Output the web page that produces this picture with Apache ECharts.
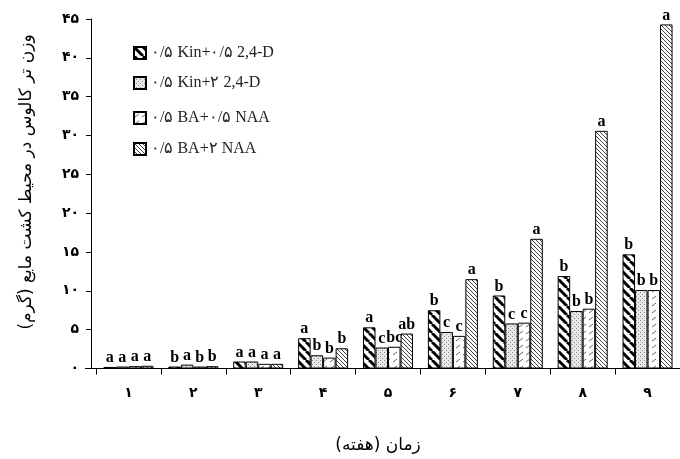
<!DOCTYPE html>
<html>
<head>
<meta charset="utf-8">
<script src="https://cdn.jsdelivr.net/npm/echarts@6/dist/echarts.min.js"></script>
<style>html,body{margin:0;padding:0;background:#fff}#c{width:680px;height:459px}</style>
</head>
<body>
<div id="c"></div>
<script>
// ---- data ----
const categories = ['۱','۲','۳','۴','۵','۶','۷','۸','۹'];
const seriesNames = ['۰/۵ Kin+۰/۵ 2,4-D', '۰/۵ Kin+۲ 2,4-D', '۰/۵ BA+۰/۵ NAA', '۰/۵ BA+۲ NAA'];
const kinLowD = [0.2, 0.25, 0.9, 3.9, 5.3, 7.5, 9.4, 11.9, 14.7];
const kinHighD = [0.25, 0.5, 0.9, 1.7, 2.7, 4.7, 5.8, 7.4, 10.1];
const baLowN = [0.3, 0.25, 0.6, 1.4, 2.8, 4.2, 5.9, 7.7, 10.1];
const baHighN = [0.35, 0.3, 0.6, 2.6, 4.5, 11.5, 16.7, 30.6, 44.3];
const lettersKinLowD = ['a','b','a','a','a','b','b','b','b'];
const lettersKinHighD = ['a','a','a','b','c','c','c','b','b'];
const lettersBaLowN = ['a','b','a','b','bc','c','c','b','b'];
const lettersBaHighN = ['a','b','a','b','ab','a','a','a','a'];
const yTickLabels = ['۰','۵','۱۰','۱۵','۲۰','۲۵','۳۰','۳۵','۴۰','۴۵'];
const yTitle = 'وزن تر کالوس در محیط کشت مایع (گرم)';
const xTitle = 'زمان (هفته)';

// ---- patterns ----
function makePattern(kind) {
  const c = document.createElement('canvas');
  let s;
  if (kind === 0) {
    s = 9; c.width = s; c.height = s;
    const g = c.getContext('2d');
    g.fillStyle = '#fff'; g.fillRect(0, 0, s, s);
    g.strokeStyle = '#000'; g.lineWidth = 3;
    for (const o of [-s, 0, s]) { g.beginPath(); g.moveTo(o, 0); g.lineTo(o + s, s); g.stroke(); }
  } else if (kind === 1) {
    s = 4; c.width = s; c.height = s;
    const g = c.getContext('2d');
    g.fillStyle = '#e8e8e8'; g.fillRect(0, 0, s, s);
    g.fillStyle = '#8a8a8a'; g.fillRect(0, 0, 1, 1); g.fillRect(2, 2, 1, 1);
  } else if (kind === 2) {
    s = 7; c.width = s; c.height = s;
    const g = c.getContext('2d');
    g.fillStyle = '#fff'; g.fillRect(0, 0, s, s);
    g.strokeStyle = '#666'; g.lineWidth = 1;
    g.beginPath(); g.moveTo(1, 5); g.lineTo(5, 2); g.stroke();
  } else {
    s = 4; c.width = s; c.height = s;
    const g = c.getContext('2d');
    g.fillStyle = '#fff'; g.fillRect(0, 0, s, s);
    g.strokeStyle = '#444'; g.lineWidth = 1;
    for (const o of [-s, 0, s]) { g.beginPath(); g.moveTo(o, 0); g.lineTo(o + s, s); g.stroke(); }
  }
  return { image: c, repeat: 'repeat' };
}

const values = [kinLowD, kinHighD, baLowN, baHighN];
const letters = [lettersKinLowD, lettersKinHighD, lettersBaLowN, lettersBaHighN];
const legendTops = [40, 70, 105, 136];

const series = values.map((v, i) => ({
  name: seriesNames[i],
  type: 'bar',
  data: v,
  barWidth: 12.5,
  barGap: '0%',
  itemStyle: { color: makePattern(i), borderColor: '#000', borderWidth: 1 },
  label: {
    show: true, position: 'top', distance: 1,
    formatter: p => letters[i][p.dataIndex],
    fontFamily: 'Liberation Serif', fontWeight: 'bold', fontSize: 16, color: '#000'
  },
  emphasis: { disabled: true },
  animation: false
}));

const legends = seriesNames.map((n, i) => ({
  data: [n], left: 128, top: legendTops[i], orient: 'vertical',
  itemWidth: 12, itemHeight: 12, itemGap: 8,
  icon: 'rect',
  textStyle: { fontFamily: 'Liberation Serif', fontSize: 16, color: '#222' },
  selectedMode: false
}));

const chart = echarts.init(document.getElementById('c'), null, { renderer: 'canvas' });
chart.setOption({
  backgroundColor: '#fff',
  animation: false,
  legend: legends,
  grid: { left: 96, right: -8, top: 19, bottom: 90.5 },
  xAxis: {
    type: 'category', data: categories,
    axisLine: { lineStyle: { color: '#000', width: 1 } },
    axisTick: { show: true, length: 6, interval: 0, lineStyle: { color: '#000' } },
    axisLabel: { margin: 18, fontFamily: 'DejaVu Sans', fontWeight: 'bold', fontSize: 14, color: '#000' }
  },
  yAxis: {
    type: 'value', min: 0, max: 45, interval: 5, offset: 5,
    axisLine: { show: true, lineStyle: { color: '#000', width: 1 } },
    axisTick: { show: true, length: 5, lineStyle: { color: '#000' } },
    splitLine: { show: false },
    axisLabel: {
      margin: 12, fontFamily: 'DejaVu Sans', fontWeight: 'bold', fontSize: 14, color: '#000',
      formatter: v => yTickLabels[Math.round(v / 5)]
    }
  },
  graphic: [
    { type: 'text', x: 27, y: 182, rotation: Math.PI / 2,
      style: { text: yTitle, font: '17px "DejaVu Sans"', fill: '#000', align: 'center', verticalAlign: 'middle' } },
    { type: 'text', x: 378, y: 446,
      style: { text: xTitle, font: '17px "DejaVu Sans"', fill: '#000', align: 'center', verticalAlign: 'middle' } },
    { type: 'line', shape: { x1: 85, y1: 368.5, x2: 96, y2: 368.5 }, style: { stroke: '#000', lineWidth: 1 } }
  ],
  series: series
});
</script>
</body>
</html>
